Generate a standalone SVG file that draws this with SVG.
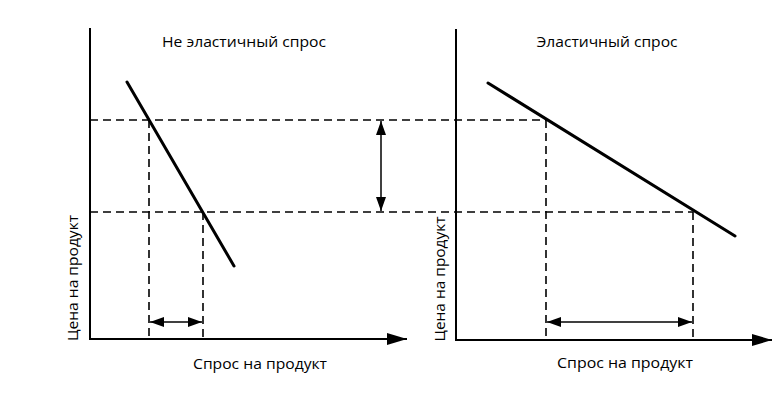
<svg xmlns="http://www.w3.org/2000/svg" width="782" height="400" viewBox="0 0 782 400">
<style>
.axis{stroke:#000;stroke-width:2;fill:none}
.curve{stroke:#000;stroke-width:3;fill:none;stroke-linecap:round}
.dash{stroke:#000;stroke-width:1.6;fill:none;stroke-dasharray:8,5}
.dim{stroke:#000;stroke-width:1.5;fill:none}
.lbl{font-family:"Open Sans","Liberation Sans",sans-serif;font-size:15px;fill:#000}
</style>
<defs>
<marker id="axArrow" viewBox="0 0 20 12" refX="20" refY="6" markerWidth="20" markerHeight="12" markerUnits="userSpaceOnUse" orient="auto">
<path d="M0,0 L20,6 L0,12 Z" fill="#000"/>
</marker>
<marker id="dimEnd" viewBox="0 0 14 10" refX="14" refY="5" markerWidth="14" markerHeight="10" markerUnits="userSpaceOnUse" orient="auto">
<path d="M0,0 L14,5 L0,10 Z" fill="#000"/>
</marker>
<marker id="dimStart" viewBox="0 0 14 10" refX="0" refY="5" markerWidth="14" markerHeight="10" markerUnits="userSpaceOnUse" orient="auto">
<path d="M14,0 L0,5 L14,10 Z" fill="#000"/>
</marker>
</defs>
<rect width="782" height="400" fill="#fff"/>
<g id="connectors">
<line class="dash" x1="90" y1="120" x2="546" y2="120"/>
<line class="dash" x1="90" y1="212" x2="693" y2="212"/>
<line class="dash" x1="149" y1="120" x2="149" y2="339"/>
<line class="dash" x1="203" y1="212" x2="203" y2="339"/>
<line class="dash" x1="546" y1="120" x2="546" y2="340"/>
<line class="dash" x1="693" y1="212" x2="693" y2="340"/>
<line class="dim" x1="150" y1="322" x2="202" y2="322" marker-start="url(#dimStart)" marker-end="url(#dimEnd)"/>
<line class="dim" x1="547" y1="322" x2="692" y2="322" marker-start="url(#dimStart)" marker-end="url(#dimEnd)"/>
<line class="dim" x1="381" y1="121" x2="381" y2="211" marker-start="url(#dimStart)" marker-end="url(#dimEnd)"/>
</g>
<g id="left-chart">
<line class="axis" x1="90" y1="28" x2="90" y2="340"/>
<line class="axis" x1="89" y1="339" x2="407" y2="339" marker-end="url(#axArrow)"/>
<line class="curve" x1="127" y1="82" x2="234" y2="266"/>
<text class="lbl" x="244" y="47" text-anchor="middle" textLength="164" lengthAdjust="spacingAndGlyphs">Не эластичный спрос</text>
<text class="lbl" x="260" y="369" text-anchor="middle" textLength="134" lengthAdjust="spacingAndGlyphs">Спрос на продукт</text>
<text class="lbl" transform="translate(78,278) rotate(-90)" text-anchor="middle" textLength="126" lengthAdjust="spacingAndGlyphs">Цена на продукт</text>
</g>
<g id="right-chart">
<line class="axis" x1="456" y1="29" x2="456" y2="341"/>
<line class="axis" x1="455" y1="340" x2="772" y2="340" marker-end="url(#axArrow)"/>
<line class="curve" x1="488" y1="83" x2="735" y2="236"/>
<text class="lbl" x="607" y="47" text-anchor="middle" textLength="141" lengthAdjust="spacingAndGlyphs">Эластичный спрос</text>
<text class="lbl" x="625" y="368" text-anchor="middle" textLength="136" lengthAdjust="spacingAndGlyphs">Спрос на продукт</text>
<text class="lbl" transform="translate(445,279) rotate(-90)" text-anchor="middle" textLength="125" lengthAdjust="spacingAndGlyphs">Цена на продукт</text>
</g>
</svg>
